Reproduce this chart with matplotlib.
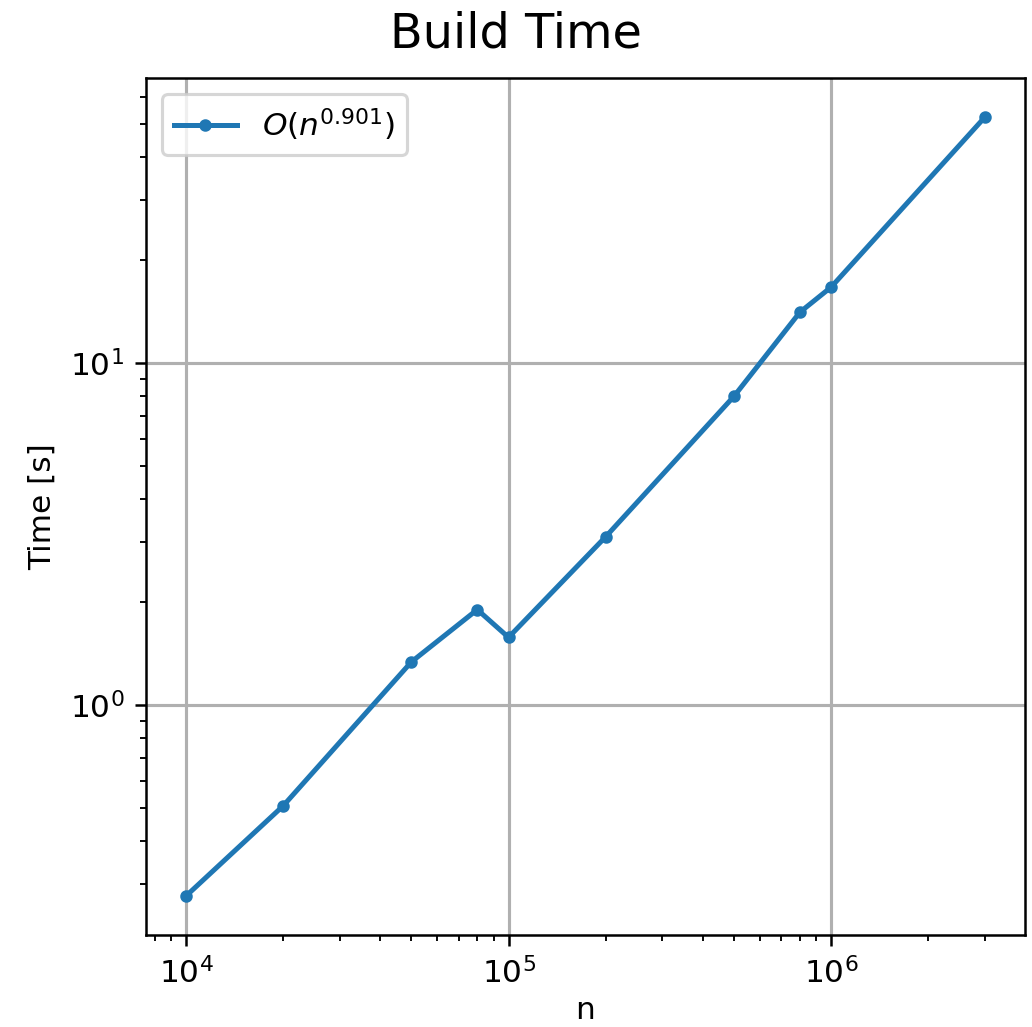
import matplotlib
matplotlib.use("Agg")
import matplotlib.pyplot as plt

# problem sizes and measured build times
sizes = [1e4, 2e4, 5e4, 8e4, 1e5, 2e5, 5e5, 8e5, 1e6, 3e6]
build_times = [0.277, 0.508, 1.34, 1.905, 1.58, 3.11, 8.01, 14.1, 16.7, 52.5]
fit_label = r"$O(n^{0.901})$"

DPI = 225

fig = plt.figure(figsize=(1032 / DPI, 1027 / DPI), dpi=DPI)
ax = fig.add_axes([146 / 1032, 1 - 935 / 1027, (1025 - 146) / 1032, (935 - 78) / 1027])

ax.plot(sizes, build_times, ".-", color="#1f77b4", linewidth=1.6, label=fit_label)
ax.set_xscale("log")
ax.set_yscale("log")
ax.grid(True, which="major", color="#b0b0b0", linewidth=1.0)

fig.suptitle("Build Time", fontsize=15.3, y=0.99)
ax.set_xlabel("n", labelpad=2)
ax.set_ylabel("Time [s]")
ax.legend(loc="upper left")

fig.savefig("out.png", dpi=DPI)
